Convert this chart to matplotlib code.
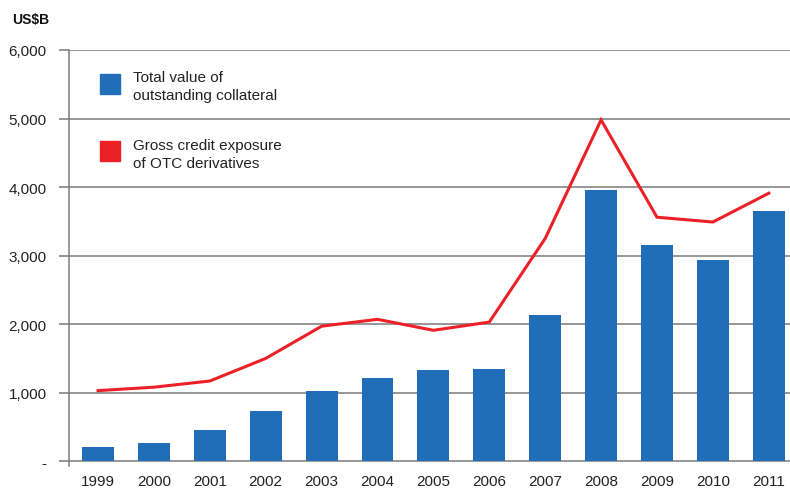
import matplotlib
matplotlib.use('Agg')
import matplotlib.pyplot as plt
from matplotlib.patches import Rectangle

plt.rcParams['font.family'] = ['Liberation Sans', 'DejaVu Sans']

# data (US$ billions)
years = ['1999', '2000', '2001', '2002', '2003', '2004', '2005',
         '2006', '2007', '2008', '2009', '2010', '2011']
collateral = [200, 260, 450, 730, 1030, 1220, 1335, 1340, 2130, 3960, 3150, 2935, 3650]
exposure = [1030, 1080, 1170, 1500, 1970, 2070, 1910, 2030, 3250, 4980, 3560, 3490, 3910]
y_ticks = [0, 1000, 2000, 3000, 4000, 5000, 6000]
y_labels = ['-', '1,000', '2,000', '3,000', '4,000', '5,000', '6,000']

blue = '#206EB7'
red = '#EC2127'
grid = '#7a7a7a'
txt = '#222222'

fig = plt.figure(figsize=(7.9, 4.89), dpi=100)
ax = fig.add_axes([69/790, 1 - 467/489, 1 - 69/790, (467 - 51)/489])

x = list(range(len(years)))
ax.bar(x, collateral, width=0.57, color=blue, zorder=3)
ax.plot(x, exposure, color=red, lw=2.2, zorder=4, solid_joinstyle='miter')

ax.set_xlim(-0.52, 12.38)
ax.set_ylim(-70, 6000)
ax.set_yticks(y_ticks)
ax.set_yticklabels(y_labels, fontsize=11, color=txt)
ax.set_xticks(x)
ax.set_xticklabels(years, fontsize=11, color=txt)
for yv in y_ticks:
    ax.axhline(yv, color=grid, lw=1.1, zorder=1)

for s in ['top', 'right', 'bottom']:
    ax.spines[s].set_visible(False)
ax.spines['left'].set_color(grid)
ax.spines['left'].set_linewidth(1.1)
ax.tick_params(axis='y', length=7, width=1.1, color=grid, pad=9)
ax.tick_params(axis='x', length=0, pad=5.5)

# legend drawn by hand
def fx(px):
    return px / 790
def fy(py):
    return 1 - py / 489

fig.patches.append(Rectangle((fx(100), fy(95)), 20/790, 20/489, transform=fig.transFigure,
                             color=blue, zorder=5))
fig.text(fx(133), fy(87), 'Total value of\noutstanding collateral', fontsize=11,
         color=txt, va='center', linespacing=1.3)
fig.patches.append(Rectangle((fx(100), fy(162)), 20/790, 20/489, transform=fig.transFigure,
                             color=red, zorder=5))
fig.text(fx(133), fy(155), 'Gross credit exposure\nof OTC derivatives', fontsize=11,
         color=txt, va='center', linespacing=1.3)

fig.text(fx(12), fy(20), 'US$B', fontsize=10, fontweight='bold', va='center',
         color='#111111')

fig.savefig('out.png', dpi=100)
